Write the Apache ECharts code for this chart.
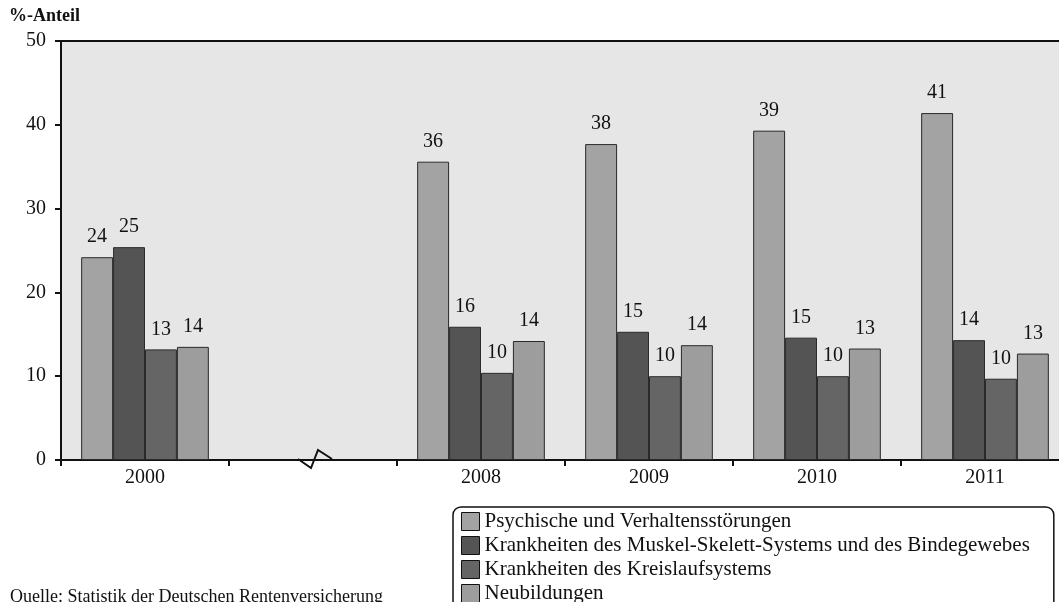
<!DOCTYPE html>
<html>
<head>
<meta charset="utf-8">
<script src="https://cdn.jsdelivr.net/npm/echarts@6/dist/echarts.min.js"></script>
<style>
  html, body { margin: 0; padding: 0; background: #fff; }
  #chart { width: 1059px; height: 602px; }
</style>
</head>
<body>
<div id="chart"></div>
<script>
// Years on the category axis; the empty slot marks the gap 2001–2007
const categories = ['2000', '', '2008', '2009', '2010', '2011'];

// Share (%) of each diagnosis group
const psychisch   = [24.2, null, 35.6, 37.7, 39.3, 41.4];
const muskel      = [25.4, null, 15.9, 15.3, 14.6, 14.3];
const kreislauf   = [13.2, null, 10.4, 10.0, 10.0, 9.7];
const neubildung  = [13.5, null, 14.2, 13.7, 13.3, 12.7];

const seriesNames = [
  'Psychische und Verhaltensstörungen',
  'Krankheiten des Muskel-Skelett-Systems und des Bindegewebes',
  'Krankheiten des Kreislaufsystems',
  'Neubildungen'
];
const seriesColors = ['#a3a3a3', '#545454', '#656565', '#9d9d9d'];
const seriesData = [psychisch, muskel, kreislauf, neubildung];

const FONT = '"Liberation Serif", "DejaVu Serif", serif';
const FS = 20;

const chart = echarts.init(document.getElementById('chart'), null, { renderer: 'canvas' });

const series = seriesData.map((data, i) => ({
  name: seriesNames[i],
  type: 'bar',
  data: data,
  barGap: '0%',
  barCategoryGap: '24%',
  itemStyle: { color: seriesColors[i], borderColor: '#2a2a2a', borderWidth: 1 },
  label: {
    show: true,
    position: 'top',
    distance: 10,
    color: '#111',
    fontFamily: FONT,
    fontSize: FS,
    formatter: p => (p.value == null ? '' : String(Math.round(p.value)))
  },
  emphasis: { disabled: true },
  animation: false
}));

chart.setOption({
  animation: false,
  backgroundColor: '#fff',
  grid: {
    left: 61,
    top: 41,
    width: 1008,
    bottom: 142,
    containLabel: false,
    outerBoundsMode: 'none',
    show: true,
    backgroundColor: '#e6e6e6',
    borderColor: '#111',
    borderWidth: 2
  },
  xAxis: {
    type: 'category',
    data: categories,
    axisLine: { show: true, lineStyle: { color: '#111', width: 2 } },
    axisTick: { show: true, length: 6, lineStyle: { color: '#111', width: 2 } },
    axisLabel: { color: '#111', fontFamily: FONT, fontSize: FS, margin: 8 },
    splitLine: { show: false }
  },
  yAxis: {
    type: 'value',
    min: 0,
    max: 50,
    interval: 10,
    axisLine: { show: true, lineStyle: { color: '#111', width: 2 } },
    axisTick: { show: true, length: 6, lineStyle: { color: '#111', width: 2 } },
    axisLabel: { color: '#111', fontFamily: FONT, fontSize: FS, margin: 15 },
    splitLine: { show: false }
  },
  legend: {
    orient: 'vertical',
    left: 453,
    top: 507,
    height: 200,
    padding: [4, 24, 12, 8],
    itemWidth: 18,
    itemHeight: 18,
    itemGap: 3,
    icon: 'rect',
    borderColor: '#111',
    borderWidth: 1.5,
    borderRadius: 8,
    selectedMode: false,
    itemStyle: { borderColor: '#111', borderWidth: 1 },
    textStyle: { color: '#111', fontFamily: FONT, fontSize: 21, padding: [0, 0, 0, 0] },
    data: seriesNames
  },
  graphic: [
    {
      type: 'text',
      left: 9,
      top: 7,
      style: { text: '%-Anteil', fill: '#111', font: 'bold 18px ' + FONT }
    },
    {
      type: 'text',
      left: 10,
      top: 588,
      style: { text: 'Quelle: Statistik der Deutschen Rentenversicherung', fill: '#111', font: '18px ' + FONT }
    },
    {
      // axis break mark on the category axis
      type: 'polyline',
      z: 100,
      shape: { points: [[298, 459], [311, 468], [318, 450], [332, 459]] },
      style: { stroke: '#111', lineWidth: 2, fill: null }
    }
  ],
  series: series
});
</script>
</body>
</html>
